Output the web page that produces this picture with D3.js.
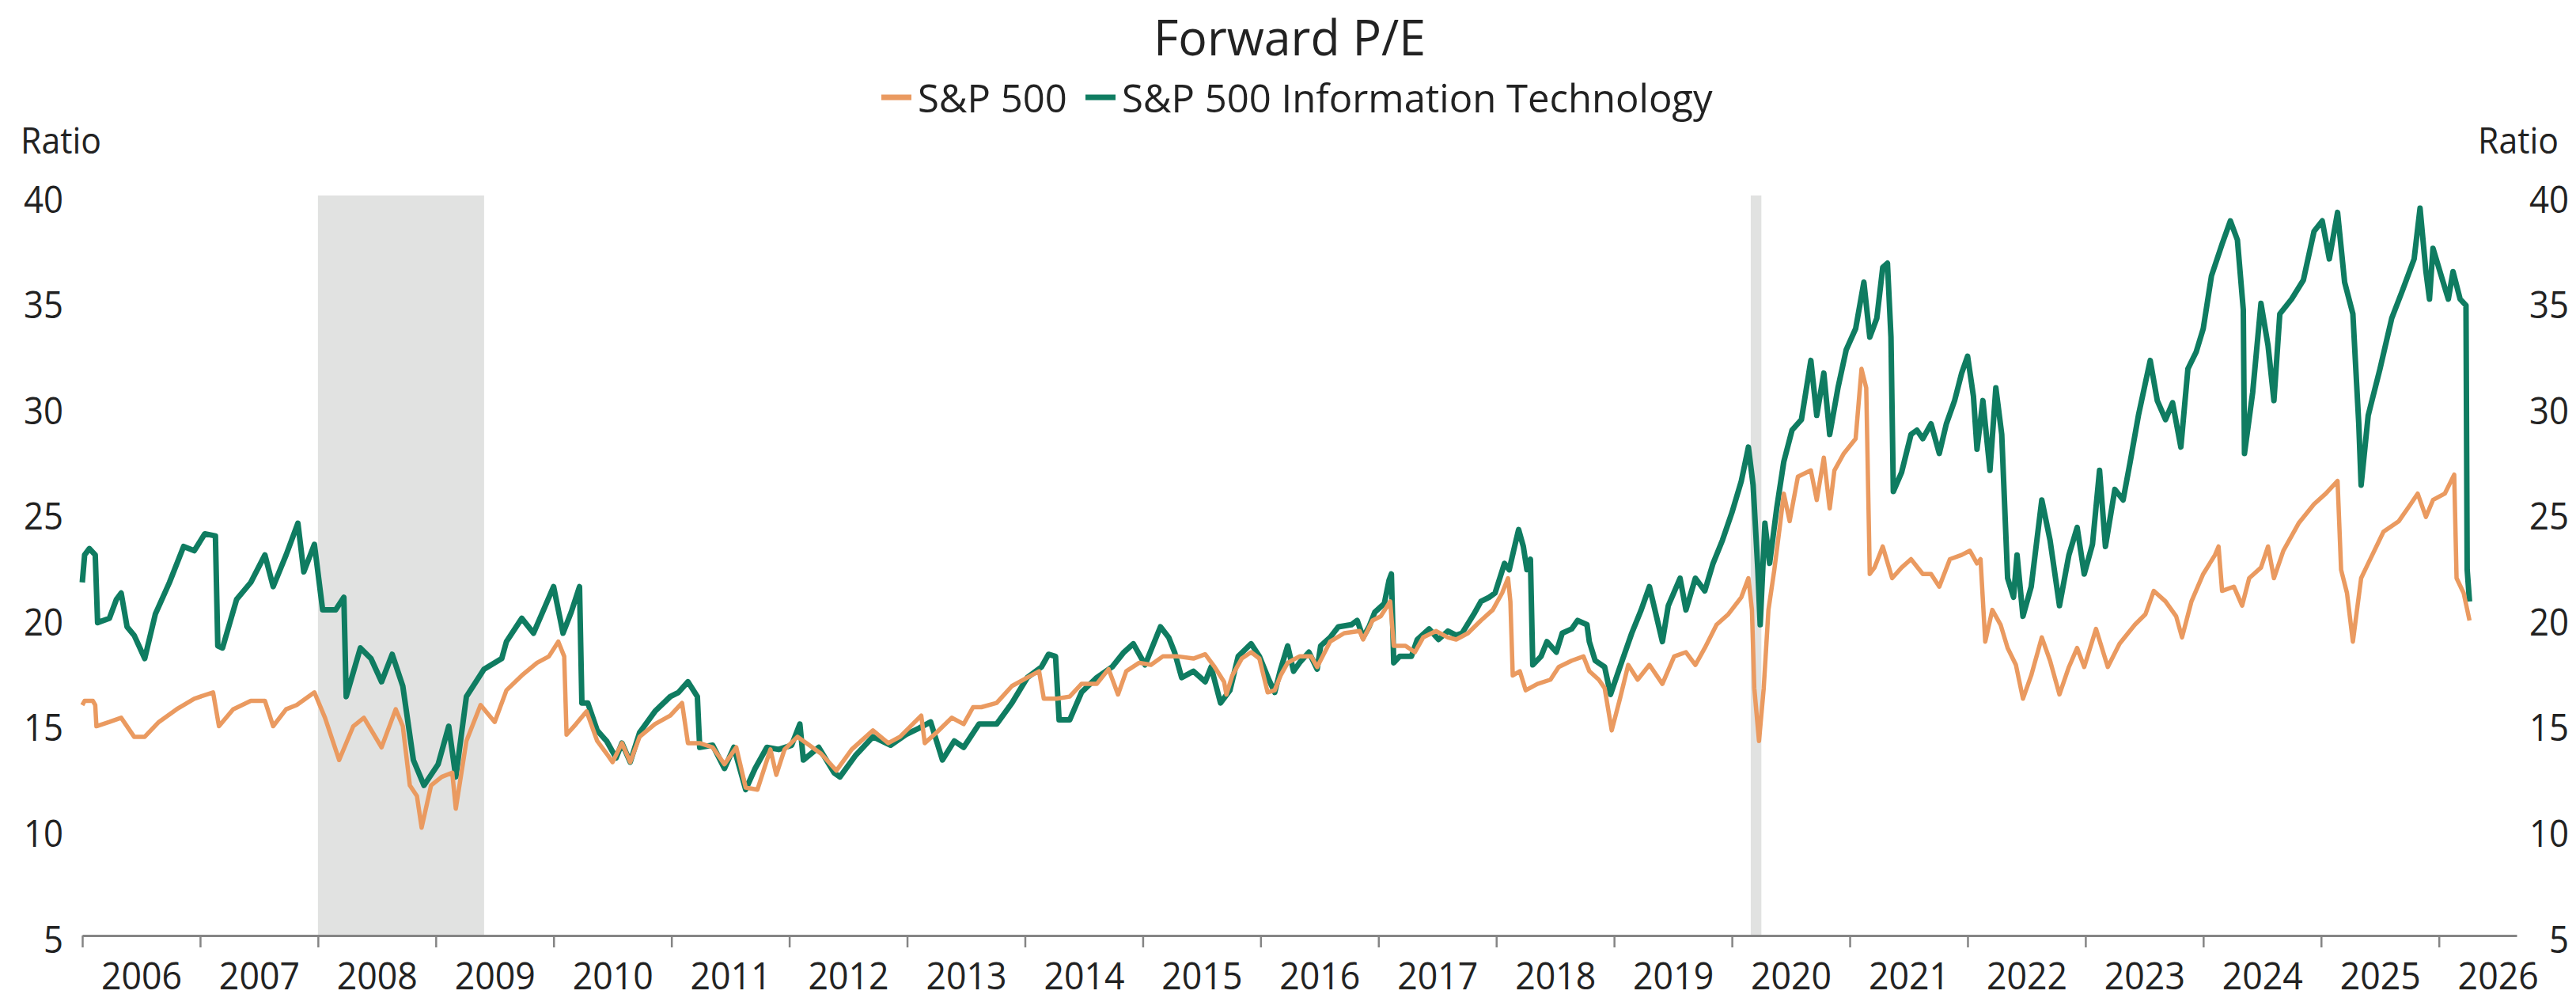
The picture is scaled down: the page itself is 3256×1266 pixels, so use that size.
<!DOCTYPE html>
<meta charset="utf-8">
<style>
  body { margin: 0; background: #fff; }
  text { font-family: "Open Sans", "Noto Sans", sans-serif; fill: #222; }
</style>
<svg width="3256" height="1266"></svg>
<script src="https://d3js.org/d3.v7.min.js"></script>
<script>

// dates are decimal years
var itDates = [2006.00,2006.02,2006.06,2006.11,2006.13,2006.23,2006.29,2006.33,2006.38,2006.44,2006.53,2006.62,2006.74,2006.86,2006.95,
  2007.04,2007.13,2007.15,2007.19,2007.31,2007.43,2007.55,2007.62,2007.73,2007.83,2007.88,2007.97,
  2008.04,2008.15,2008.22,2008.24,2008.36,2008.45,2008.54,2008.63,2008.72,2008.81,2008.90,
  2009.02,2009.11,2009.17,2009.26,2009.41,2009.56,2009.60,2009.73,2009.83,2009.93,
  2010.00,2010.08,2010.15,2010.22,2010.24,2010.29,2010.37,2010.45,2010.53,2010.58,2010.65,2010.73,2010.86,2010.99,
  2011.06,2011.14,2011.22,2011.24,2011.35,2011.45,2011.53,2011.63,2011.71,2011.81,2011.91,
  2012.02,2012.09,2012.12,2012.25,2012.38,2012.43,2012.56,2012.71,2012.86,2012.99,
  2013.10,2013.20,2013.30,2013.40,2013.48,2013.61,2013.76,2013.89,
  2014.02,2014.14,2014.20,2014.26,2014.29,2014.38,2014.48,2014.61,2014.74,2014.84,2014.92,
  2015.02,2015.15,2015.22,2015.27,2015.33,2015.43,2015.53,2015.58,2015.66,2015.74,2015.81,2015.92,2015.99,
  2016.07,2016.12,2016.17,2016.23,2016.28,2016.33,2016.41,2016.48,2016.51,2016.59,2016.66,2016.77,2016.82,2016.87,2016.92,2016.97,
  2017.05,2017.09,2017.11,2017.13,2017.18,2017.28,2017.33,2017.43,2017.51,2017.59,2017.66,2017.71,2017.81,2017.87,2017.94,2017.99,
  2018.07,2018.11,2018.16,2018.19,2018.23,2018.26,2018.29,2018.31,2018.38,2018.43,2018.51,2018.56,2018.64,2018.69,2018.77,2018.79,2018.84,2018.92,2018.97,
  2019.05,2019.15,2019.23,2019.30,2019.41,2019.46,2019.56,2019.61,2019.69,2019.77,2019.84,2019.92,
  2020.00,2020.08,2020.14,2020.18,2020.22,2020.24,2020.28,2020.32,2020.38,2020.44,2020.51,2020.59,2020.67,2020.72,2020.78,2020.83,2020.90,2020.97,
  2021.05,2021.12,2021.17,2021.23,2021.28,2021.32,2021.35,2021.37,2021.44,2021.52,2021.57,2021.62,2021.69,2021.76,2021.82,2021.89,2021.95,
  2022.00,2022.05,2022.08,2022.13,2022.19,2022.24,2022.29,2022.34,2022.39,2022.42,2022.47,2022.54,2022.63,2022.70,2022.78,2022.86,2022.93,2022.99,
  2023.06,2023.12,2023.17,2023.25,2023.32,2023.38,2023.45,2023.55,2023.61,2023.68,2023.74,2023.81,2023.87,2023.94,
  2024.00,2024.07,2024.16,2024.23,2024.29,2024.34,2024.35,2024.42,2024.49,2024.55,2024.60,2024.65,2024.75,2024.85,2024.94,
  2025.01,2025.07,2025.14,2025.20,2025.27,2025.32,2025.34,2025.40,2025.50,2025.60,2025.69,2025.79,2025.84,2025.89,2025.92,2025.95,
  2026.02,2026.08,2026.12,2026.18,2026.23,2026.24,2026.26];
var itValues = [21.7,23.0,23.3,23.0,19.8,20.0,20.9,21.2,19.6,19.2,18.1,20.2,21.7,23.4,23.2,
  24.0,23.9,18.7,18.6,20.9,21.7,23.0,21.5,23.0,24.5,22.2,23.5,
  20.4,20.4,21.0,16.3,18.6,18.1,17.0,18.3,16.8,13.3,12.1,
  13.1,14.9,12.5,16.3,17.6,18.1,18.9,20.0,19.3,20.6,
  21.5,19.3,20.3,21.5,16.0,16.0,14.7,14.2,13.4,14.1,13.2,14.6,15.6,16.3,
  16.5,17.0,16.3,13.9,14.0,12.9,13.9,11.9,12.9,13.9,13.8,
  14.0,15.0,13.3,13.9,12.7,12.5,13.5,14.4,14.0,14.5,
  14.8,15.1,13.3,14.2,13.9,15.0,15.0,16.0,
  17.2,17.7,18.3,18.2,15.2,15.2,16.5,17.2,17.7,18.4,18.8,
  17.8,19.6,19.1,18.4,17.2,17.5,17.0,17.7,16.0,16.6,18.2,18.8,18.2,
  17.1,16.5,17.6,18.7,17.5,17.9,18.4,17.6,18.7,19.1,19.6,19.7,19.9,19.1,19.6,20.3,
  20.7,21.8,22.1,17.9,18.2,18.2,19.0,19.5,19.0,19.4,19.2,19.3,20.2,20.8,21.0,21.2,
  22.6,22.3,23.5,24.2,23.4,22.3,22.8,17.8,18.2,18.9,18.4,19.3,19.5,19.9,19.7,18.9,18.0,17.7,16.4,
  17.7,19.3,20.4,21.5,18.9,20.6,21.9,20.4,21.9,21.3,22.6,23.7,
  25.0,26.5,28.1,26.3,22.3,19.7,24.5,22.6,25.2,27.4,28.9,29.4,32.2,29.6,31.6,28.7,30.9,32.7,
  33.7,35.9,33.3,34.2,36.6,36.8,33.3,26.0,26.9,28.7,28.9,28.5,29.2,27.8,29.2,30.3,31.6,
  32.4,30.5,28.0,30.3,27.0,30.9,28.7,21.9,21.0,23.0,20.1,21.5,25.6,23.7,20.6,23.0,24.3,22.1,
  23.5,27.0,23.4,26.1,25.6,27.4,29.6,32.2,30.3,29.4,30.2,28.1,31.8,32.6,
  33.7,36.2,37.7,38.8,37.9,34.6,27.8,30.7,34.9,32.9,30.3,34.4,35.1,36.0,38.3,
  38.8,37.0,39.2,35.9,34.4,29.2,26.3,29.6,31.8,34.2,35.5,37.0,39.4,36.4,35.1,37.5,
  36.2,35.1,36.4,35.1,34.8,22.3,20.8];

var spxDates = [2006.00,2006.02,2006.09,2006.11,2006.12,2006.23,2006.33,2006.44,2006.53,2006.65,2006.80,2006.95,
  2007.11,2007.16,2007.28,2007.43,2007.55,2007.62,2007.73,2007.82,2007.97,
  2008.06,2008.18,2008.30,2008.39,2008.54,2008.66,2008.72,2008.78,2008.84,2008.88,2008.96,
  2009.05,2009.14,2009.17,2009.26,2009.38,2009.50,2009.60,2009.73,2009.86,2009.96,
  2010.04,2010.09,2010.11,2010.19,2010.28,2010.37,2010.45,2010.50,2010.58,2010.65,2010.73,2010.86,2010.99,
  2011.09,2011.14,2011.24,2011.35,2011.45,2011.55,2011.63,2011.73,2011.84,2011.89,2011.96,
  2012.07,2012.17,2012.27,2012.40,2012.53,2012.71,2012.84,2012.94,
  2013.12,2013.15,2013.25,2013.38,2013.48,2013.56,2013.63,2013.76,2013.89,
  2014.02,2014.12,2014.16,2014.27,2014.38,2014.48,2014.61,2014.71,2014.79,2014.86,2014.97,
  2015.07,2015.17,2015.30,2015.43,2015.53,2015.61,2015.69,2015.71,2015.76,2015.84,2015.92,2015.99,
  2016.06,2016.12,2016.17,2016.23,2016.33,2016.43,2016.48,2016.59,2016.71,2016.84,2016.87,2016.95,
  2017.02,2017.10,2017.13,2017.23,2017.31,2017.38,2017.49,2017.59,2017.66,2017.76,2017.87,2017.97,
  2018.05,2018.10,2018.12,2018.14,2018.20,2018.25,2018.35,2018.46,2018.53,2018.64,2018.74,2018.79,2018.87,2018.92,2018.98,
  2019.05,2019.12,2019.20,2019.30,2019.41,2019.51,2019.61,2019.69,2019.77,2019.87,2019.97,
  2020.08,2020.14,2020.17,2020.19,2020.23,2020.27,2020.31,2020.36,2020.41,2020.44,2020.49,2020.56,2020.67,2020.72,2020.78,2020.83,2020.87,2020.95,
  2021.05,2021.10,2021.14,2021.17,2021.21,2021.28,2021.36,2021.44,2021.52,2021.62,2021.69,2021.76,2021.85,2021.95,
  2022.02,2022.08,2022.11,2022.15,2022.21,2022.28,2022.34,2022.41,2022.47,2022.54,2022.63,2022.70,2022.78,2022.86,2022.93,2022.99,
  2023.09,2023.19,2023.29,2023.42,2023.51,2023.58,2023.68,2023.77,2023.82,2023.90,
  2024.00,2024.10,2024.13,2024.16,2024.26,2024.33,2024.39,2024.49,2024.55,2024.60,2024.68,2024.81,2024.94,
  2025.04,2025.14,2025.17,2025.22,2025.27,2025.34,2025.40,2025.53,2025.66,2025.76,2025.82,2025.89,2025.95,
  2026.05,2026.13,2026.15,2026.21,2026.26];
var spxValues = [15.9,16.1,16.1,15.9,14.9,15.1,15.3,14.4,14.4,15.1,15.7,16.2,
  16.5,14.9,15.7,16.1,16.1,14.9,15.7,15.9,16.5,
  15.3,13.3,14.9,15.3,13.9,15.7,14.9,12.1,11.6,10.1,12.1,
  12.5,12.7,11.0,14.2,15.9,15.1,16.6,17.3,17.9,18.2,
  18.9,18.2,14.5,15.0,15.6,14.2,13.6,13.2,14.1,13.2,14.4,15.0,15.4,
  16.0,14.1,14.1,13.9,13.1,13.9,12.0,11.9,13.8,12.6,13.8,
  14.4,14.0,13.6,12.8,13.8,14.7,14.1,14.4,
  15.4,14.1,14.6,15.3,15.0,15.8,15.8,16.0,16.8,
  17.2,17.5,16.2,16.2,16.3,16.9,16.9,17.6,16.4,17.5,17.9,
  17.8,18.2,18.2,18.1,18.3,17.7,17.0,16.4,17.3,18.1,18.4,18.1,
  16.5,16.6,17.3,17.9,18.2,18.2,17.7,18.9,19.3,19.4,19.0,19.9,
  20.1,20.8,18.7,18.7,18.4,19.1,19.4,19.1,19.0,19.3,19.9,20.4,
  21.2,21.9,20.8,17.3,17.5,16.6,16.9,17.1,17.7,18.0,18.2,17.5,17.1,16.7,14.7,
  16.2,17.8,17.1,17.8,16.9,18.2,18.4,17.8,18.6,19.7,20.2,
  21.0,21.9,20.4,16.7,14.2,16.7,20.4,22.3,24.5,25.9,24.6,26.7,27.0,25.6,27.6,25.2,27.0,27.8,
  28.5,31.8,30.9,22.1,22.4,23.4,21.9,22.4,22.8,22.1,22.1,21.5,22.8,23.0,
  23.2,22.6,22.8,18.9,20.4,19.7,18.6,17.8,16.2,17.3,19.1,18.0,16.4,17.7,18.6,17.7,
  19.5,17.7,18.8,19.7,20.2,21.3,20.8,20.1,19.1,20.8,
  22.1,23.0,23.4,21.3,21.5,20.6,21.9,22.4,23.4,21.9,23.2,24.5,25.4,
  25.9,26.5,22.3,21.2,18.9,21.9,22.6,24.1,24.6,25.4,25.9,24.8,25.6,
  25.9,26.8,21.9,21.2,19.9];

var yearLabels = d3.range(2006, 2027);
var ratioTicks = [5, 10, 15, 20, 25, 30, 35, 40];
var recessions = [[2008.0, 2009.41], [2020.16, 2020.25]];
var seriesNames = ["S&P 500", "S&P 500 Information Technology"];
var seriesColors = ["#ea9a60", "#0f7c61"];

var svg = d3.select("svg"),
    plotLeft = 104, plotRight = 3181, plotTop = 247, plotBottom = 1182;

var x = d3.scaleLinear().domain([2006, 2026.66]).range([plotLeft, plotRight]);
var y = d3.scaleLinear().domain([5, 40]).range([plotBottom, plotTop]);

// recession shading
svg.selectAll("rect.band")
    .data(recessions)
  .enter().append("rect")
    .attr("class", "band")
    .attr("x", function(d) { return x(d[0]); })
    .attr("width", function(d) { return x(d[1]) - x(d[0]); })
    .attr("y", y(40))
    .attr("height", y(5) - y(40))
    .attr("fill", "#e1e2e1");

// x axis: ticks on Jan 1, labels mid-year
var xAxis = svg.append("g")
    .attr("transform", "translate(0," + plotBottom + ")")
    .call(d3.axisBottom(x).tickValues(yearLabels).tickSize(15).tickSizeOuter(0).tickFormat(""));
xAxis.select(".domain").attr("stroke", "#858585").attr("stroke-width", 3);
xAxis.selectAll(".tick line").attr("stroke", "#858585").attr("stroke-width", 2.5);

var xLabels = svg.append("g")
    .attr("transform", "translate(0," + plotBottom + ")")
    .call(d3.axisBottom(x).tickValues(yearLabels.map(function(d) { return d + 0.5; }))
        .tickSize(0).tickFormat(function(d) { return Math.floor(d); }));
xLabels.select(".domain").remove();
xLabels.selectAll("text").attr("y", 68).attr("dy", null)
    .style("font-size", "48px").attr("font-family", null).attr("fill", "#222");

// y labels on both sides
var yLeft = svg.append("g")
    .attr("transform", "translate(80,0)")
    .call(d3.axisLeft(y).tickValues(ratioTicks).tickSize(0).tickPadding(0));
var yRight = svg.append("g")
    .attr("transform", "translate(3247,0)")
    .call(d3.axisLeft(y).tickValues(ratioTicks).tickSize(0).tickPadding(0));
[yLeft, yRight].forEach(function(g) {
  g.select(".domain").remove();
  g.selectAll("text").attr("dy", null).attr("y", 21)
      .style("font-size", "47px").attr("font-family", null).attr("fill", "#222");
});

svg.append("text").attr("x", 26).attr("y", 194).style("font-size", "46px").text("Ratio");
svg.append("text").attr("x", 3234).attr("y", 194).attr("text-anchor", "end")
    .style("font-size", "46px").text("Ratio");

// lines
var line = d3.line()
    .x(function(d) { return x(d[0]); })
    .y(function(d) { return y(d[1]); });

svg.append("path")
    .datum(d3.zip(itDates, itValues))
    .attr("fill", "none")
    .attr("stroke", seriesColors[1])
    .attr("stroke-width", 7)
    .attr("stroke-linejoin", "round")
    .attr("d", line);

svg.append("path")
    .datum(d3.zip(spxDates, spxValues))
    .attr("fill", "none")
    .attr("stroke", seriesColors[0])
    .attr("stroke-width", 5.5)
    .attr("stroke-linejoin", "round")
    .attr("d", line);

// title and legend
svg.append("text")
    .attr("class", "title")
    .attr("x", 1630).attr("y", 70)
    .attr("text-anchor", "middle")
    .style("font-size", "62px")
    .text("Forward P/E");

var legendX = [1114, 1372];
var legend = svg.selectAll("g.legend")
    .data(seriesNames)
  .enter().append("g")
    .attr("class", "legend")
    .attr("transform", function(d, i) { return "translate(" + legendX[i] + ",0)"; });
legend.append("line")
    .attr("x1", 0).attr("x2", 38)
    .attr("y1", 123).attr("y2", 123)
    .attr("stroke", function(d, i) { return seriesColors[i]; })
    .attr("stroke-width", 7);
legend.append("text")
    .attr("class", "legend-text")
    .attr("x", 46).attr("y", 142)
    .style("font-size", "50px")
    .text(function(d) { return d; });

// the source font runs a bit narrower than Open Sans
svg.selectAll("text").each(function() {
  var c = this.getAttribute("class");
  var k = c === "title" ? 0.98 : c === "legend-text" ? 0.98 : 0.93;
  var w = this.getComputedTextLength();
  this.setAttribute("textLength", w * k);
  this.setAttribute("lengthAdjust", "spacingAndGlyphs");
});

</script>
